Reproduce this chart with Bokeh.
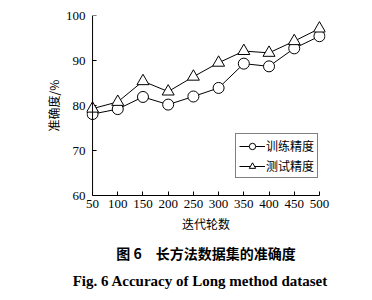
from bokeh.plotting import figure
from bokeh.models import Legend, LegendItem, Title, FixedTicker, Range1d, Span
from bokeh.embed import file_html
from bokeh.resources import INLINE

epochs = [50, 100, 150, 200, 250, 300, 350, 400, 450, 500]
train_acc = [78.1, 79.2, 81.9, 80.2, 82.0, 83.9, 89.3, 88.7, 92.7, 95.4]
test_acc = [79.3, 80.8, 85.4, 83.1, 86.4, 89.5, 92.1, 91.7, 94.3, 97.1]
y_ticks = [60, 70, 80, 90, 100]
train_name = "训练精度"
test_name = "测试精度"
x_label = "迭代轮数"
y_label = "准确度/%"
cap_cn = "图 6　长方法数据集的准确度"
cap_en = "Fig. 6    Accuracy of Long method dataset"

SERIF = "Liberation Serif"
CJK = "Noto Sans CJK SC"

x0, x1 = epochs[0], epochs[-1]
pad = 12
tick_len = 8
p = figure(width=372, height=300, output_backend="svg", toolbar_location=None,
           x_range=Range1d(x0 - pad, x1 + pad), y_range=Range1d(y_ticks[0], y_ticks[-1]),
           min_border_left=86, min_border_right=47, min_border_top=15, min_border_bottom=105)
p.outline_line_color = None
p.grid.grid_line_color = None
p.background_fill_color = "white"
p.border_fill_color = "white"

for ax in (p.xaxis[0], p.yaxis[0]):
    ax.axis_line_color = "black"
    ax.axis_line_width = 1
    ax.major_tick_in = 4
    ax.major_tick_out = 0
    ax.minor_tick_line_color = None
    ax.major_label_text_font = SERIF
    ax.major_label_text_font_size = "13px"
    ax.major_label_text_color = "black"
    ax.axis_label_text_font = CJK
    ax.axis_label_text_font_size = "12px"
    ax.axis_label_text_font_style = "normal"
    ax.axis_label_text_color = "black"

p.xaxis.ticker = FixedTicker(ticks=epochs)
p.yaxis.ticker = FixedTicker(ticks=y_ticks)
p.xaxis.bounds = (x0, x1)
p.xaxis.axis_label = x_label
p.yaxis.axis_label = y_label
p.xaxis.major_label_standoff = 4
p.xaxis.axis_label_standoff = 4
# y axis drawn at x = first epoch: hide the panel axis line/ticks, draw them in data space
p.yaxis.axis_line_color = None
p.yaxis.major_tick_line_color = None
p.yaxis.major_tick_in = 0
p.yaxis.major_label_standoff = 1
p.yaxis.axis_label_standoff = 1
p.add_layout(Span(location=x0, dimension="height", line_color="black", line_width=1))
p.segment(x0=[x0] * len(y_ticks), y0=y_ticks, x1=[x0 + tick_len] * len(y_ticks), y1=y_ticks,
          line_color="black", line_width=1)

l1 = p.line(epochs, train_acc, line_color="black", line_width=1)
m1 = p.scatter(epochs, train_acc, marker="circle", size=11, line_color="black",
               fill_color="white", line_width=1)
l2 = p.line(epochs, test_acc, line_color="black", line_width=1)
m2 = p.scatter(epochs, test_acc, marker="triangle", size=12, line_color="black",
               fill_color="white", line_width=1)

legend = Legend(items=[LegendItem(label=train_name, renderers=[l1, m1]),
                       LegendItem(label=test_name, renderers=[l2, m2])],
                location=(149, 17))
legend.border_line_color = "black"
legend.border_line_width = 1
legend.label_text_font = CJK
legend.label_text_font_size = "12px"
legend.label_text_color = "black"
legend.glyph_width = 26
legend.glyph_height = 16
legend.spacing = 3
legend.padding = 3
legend.margin = 0
legend.label_standoff = 1
legend.background_fill_alpha = 1
p.add_layout(legend, "center")

t1 = Title(text=cap_cn, align="center", text_font=CJK, text_font_size="14px",
           text_font_style="bold", text_color="black", standoff=12)
t2 = Title(text=cap_en, align="center", text_font=SERIF, text_font_size="15px",
           text_font_style="bold", text_color="black", standoff=5)
p.add_layout(t1, "below")
p.add_layout(t2, "below")

open("out.html", "w").write(file_html(p, INLINE))
